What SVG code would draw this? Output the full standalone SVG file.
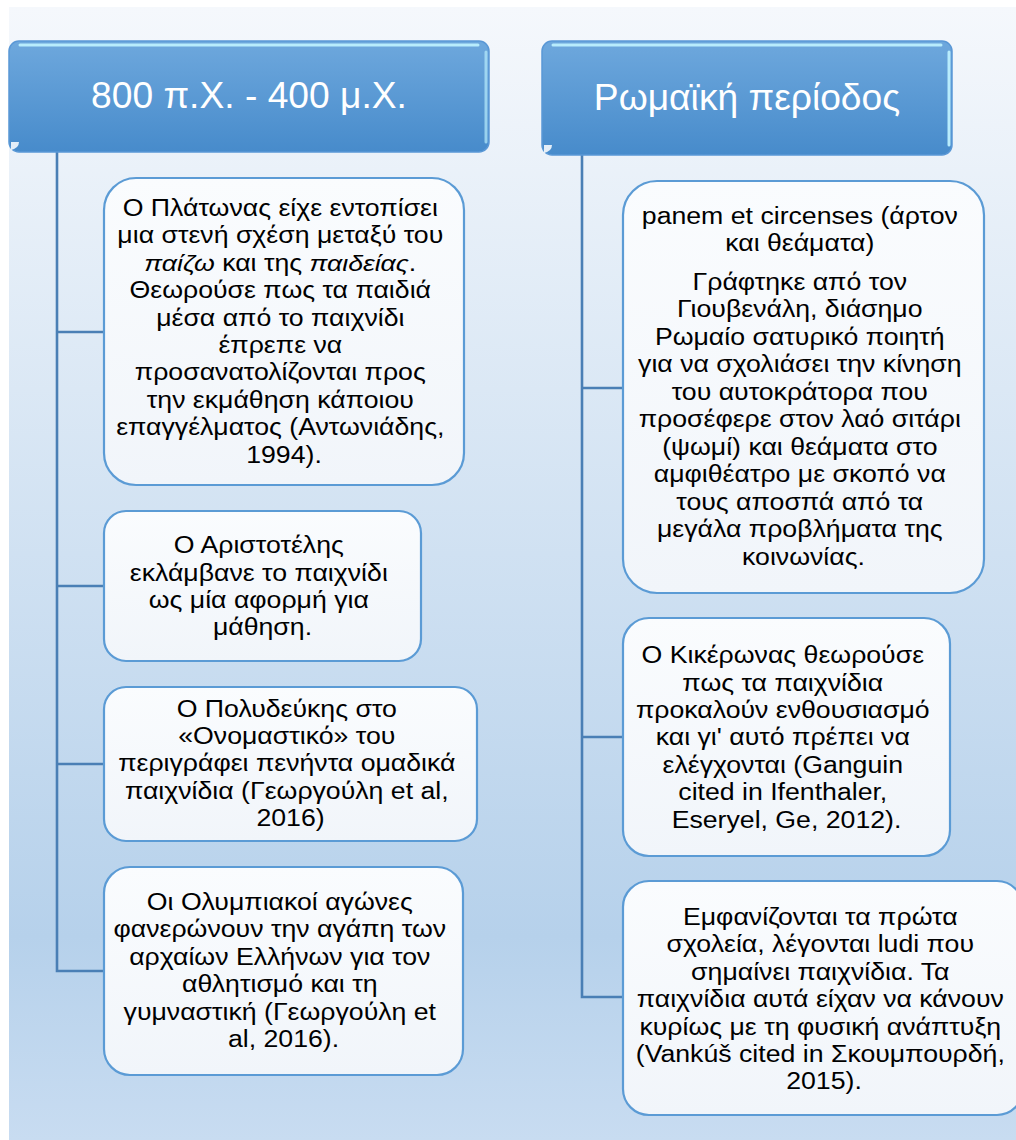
<svg xmlns="http://www.w3.org/2000/svg" width="1016" height="1140" viewBox="0 0 1016 1140">
<defs>
<linearGradient id="bg" x1="0" y1="0" x2="0" y2="1">
<stop offset="0" stop-color="#f5f8fc"/>
<stop offset="0.82" stop-color="#b6d1eb"/>
<stop offset="1" stop-color="#c8dcf1"/>
</linearGradient>
<linearGradient id="hdr" x1="0" y1="0" x2="0" y2="1">
<stop offset="0" stop-color="#6ea8dd"/>
<stop offset="1" stop-color="#478bcb"/>
</linearGradient>
<linearGradient id="box" x1="0" y1="0" x2="0" y2="1">
<stop offset="0" stop-color="#fafcfe"/>
<stop offset="1" stop-color="#f1f5fa"/>
</linearGradient>
<style>
.hdr{fill:url(#hdr);stroke:#5a98d6;stroke-width:1.5}
.hl{fill:none;stroke:#b8ecfc;stroke-width:3;stroke-linecap:round}
.hlt{fill:#ffffff;fill-opacity:0.85}
.box{fill:url(#box);stroke:#5b9bd5;stroke-width:2.2}
.ht{font-family:"Liberation Sans",Arial,sans-serif;font-size:37.2px;fill:#ffffff;text-anchor:middle}
.t{font-family:"Liberation Sans",Arial,sans-serif;font-size:23px;fill:#000000;text-anchor:middle}
.conn{fill:none;stroke:#4a7fb5;stroke-width:2.6}
</style>
</defs>
<rect x="9" y="7" width="1007" height="1133" fill="url(#bg)"/>

<g id="connectors">
<path class="conn" d="M57 152 V971 H104 M57 332 H104 M57 586 H104 M57 764 H104"/>
<path class="conn" d="M582 155 V997 H623 M582 388 H623 M582 737 H623"/>
</g>

<g id="header-left">
<rect class="hdr" x="9" y="41" width="480" height="111" rx="10"/>
<path class="hl" d="M20 45 H478"/>
<path class="hl" d="M486 52 V142" stroke-opacity="0.7"/>
<path class="hlt" d="M11 150 L11 142 L19 142 Q19 148 11 150 Z"/>
<text class="ht" x="249" y="108">800 π.Χ. - 400 μ.Χ.</text>
</g>

<g id="header-right">
<rect class="hdr" x="542" y="41" width="410" height="114" rx="10"/>
<path class="hl" d="M553 45 H941"/>
<path class="hl" d="M949 52 V145"/>
<path class="hlt" d="M544 153 L544 145 L552 145 Q552 151 544 153 Z"/>
<text class="ht" x="747" y="110">Ρωμαϊκή περίοδος</text>
</g>

<g id="box-plato">
<rect class="box" x="104" y="178" width="360" height="307" rx="32"/>
<text class="t" transform="translate(284 0) scale(1.16 1)">
<tspan x="0" y="216">Ο Πλάτωνας είχε εντοπίσει</tspan>
<tspan x="0" y="243.4">μια στενή σχέση μεταξύ του</tspan>
<tspan x="0" y="270.8"><tspan font-style="italic">παίζω</tspan> και της <tspan font-style="italic">παιδείας</tspan>.</tspan>
<tspan x="0" y="298.2">Θεωρούσε πως τα παιδιά</tspan>
<tspan x="0" y="325.6">μέσα από το παιχνίδι</tspan>
<tspan x="0" y="353">έπρεπε να</tspan>
<tspan x="0" y="380.4">προσανατολίζονται προς</tspan>
<tspan x="0" y="407.8">την εκμάθηση κάποιου</tspan>
<tspan x="0" y="435.2">επαγγέλματος (Αντωνιάδης,</tspan>
<tspan x="0" y="462.6">1994).</tspan>
</text>
</g>

<g id="box-aristotle">
<rect class="box" x="104" y="511" width="317" height="150" rx="22"/>
<text class="t" transform="translate(262.5 0) scale(1.16 1)">
<tspan x="0" y="553.3">Ο Αριστοτέλης</tspan>
<tspan x="0" y="580.7">εκλάμβανε το παιχνίδι</tspan>
<tspan x="0" y="608.1">ως μία αφορμή για</tspan>
<tspan x="0" y="635.5">μάθηση.</tspan>
</text>
</g>

<g id="box-polydeuces">
<rect class="box" x="104" y="687" width="373" height="154" rx="22"/>
<text class="t" transform="translate(290.5 0) scale(1.16 1)">
<tspan x="0" y="716.7">Ο Πολυδεύκης στο</tspan>
<tspan x="0" y="744.1">«Ονομαστικό» του</tspan>
<tspan x="0" y="771.5">περιγράφει πενήντα ομαδικά</tspan>
<tspan x="0" y="798.9">παιχνίδια (Γεωργούλη et al,</tspan>
<tspan x="0" y="826.3">2016)</tspan>
</text>
</g>

<g id="box-olympics">
<rect class="box" x="104" y="867" width="359" height="208" rx="26"/>
<text class="t" transform="translate(283.5 0) scale(1.16 1)">
<tspan x="0" y="910">Οι Ολυμπιακοί αγώνες</tspan>
<tspan x="0" y="937.4">φανερώνουν την αγάπη των</tspan>
<tspan x="0" y="964.8">αρχαίων Ελλήνων για τον</tspan>
<tspan x="0" y="992.2">αθλητισμό και τη</tspan>
<tspan x="0" y="1019.6">γυμναστική (Γεωργούλη et</tspan>
<tspan x="0" y="1047">al, 2016).</tspan>
</text>
</g>

<g id="box-panem">
<rect class="box" x="623" y="181" width="361" height="412" rx="34"/>
<text class="t" transform="translate(803.5 0) scale(1.16 1)">
<tspan x="0" y="224">panem et circenses (άρτον</tspan>
<tspan x="0" y="251.5">και θεάματα)</tspan>
<tspan x="0" y="290">Γράφτηκε από τον</tspan>
<tspan x="0" y="317.5">Γιουβενάλη, διάσημο</tspan>
<tspan x="0" y="345">Ρωμαίο σατυρικό ποιητή</tspan>
<tspan x="0" y="372.5">για να σχολιάσει την κίνηση</tspan>
<tspan x="0" y="400">του αυτοκράτορα που</tspan>
<tspan x="0" y="427.5">προσέφερε στον λαό σιτάρι</tspan>
<tspan x="0" y="455">(ψωμί) και θεάματα στο</tspan>
<tspan x="0" y="482.5">αμφιθέατρο με σκοπό να</tspan>
<tspan x="0" y="510">τους αποσπά από τα</tspan>
<tspan x="0" y="537.5">μεγάλα προβλήματα της</tspan>
<tspan x="0" y="565">κοινωνίας.</tspan>
</text>
</g>

<g id="box-cicero">
<rect class="box" x="623" y="618" width="327" height="238" rx="26"/>
<text class="t" transform="translate(786.5 0) scale(1.16 1)">
<tspan x="0" y="663.3">Ο Κικέρωνας θεωρούσε</tspan>
<tspan x="0" y="690.7">πως τα παιχνίδια</tspan>
<tspan x="0" y="718.1">προκαλούν ενθουσιασμό</tspan>
<tspan x="0" y="745.5">και γι' αυτό πρέπει να</tspan>
<tspan x="0" y="772.9">ελέγχονται (Ganguin</tspan>
<tspan x="0" y="800.3">cited in Ifenthaler,</tspan>
<tspan x="0" y="827.7">Eseryel, Ge, 2012).</tspan>
</text>
</g>

<g id="box-ludi">
<rect class="box" x="623" y="881" width="400" height="234" rx="26"/>
<text class="t" transform="translate(824 0) scale(1.16 1)">
<tspan x="0" y="925">Εμφανίζονται τα πρώτα</tspan>
<tspan x="0" y="952.4">σχολεία, λέγονται ludi που</tspan>
<tspan x="0" y="979.8">σημαίνει παιχνίδια. Τα</tspan>
<tspan x="0" y="1007.2">παιχνίδια αυτά είχαν να κάνουν</tspan>
<tspan x="0" y="1034.6">κυρίως με τη φυσική ανάπτυξη</tspan>
<tspan x="0" y="1062">(Vankúš cited in Σκουμπουρδή,</tspan>
<tspan x="0" y="1089.4">2015).</tspan>
</text>
</g>
</svg>
